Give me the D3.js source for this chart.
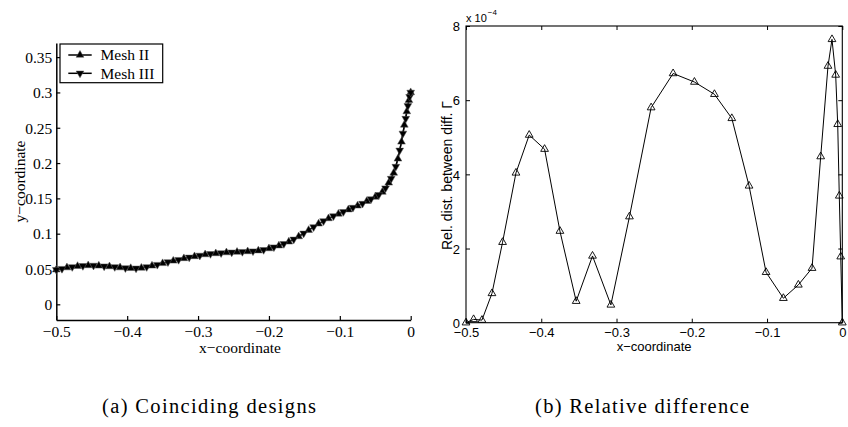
<!DOCTYPE html>
<html>
<head>
<meta charset="utf-8">
<script src="https://cdn.jsdelivr.net/npm/d3@7"></script>
<style>
  html, body { margin: 0; padding: 0; background: #fff; }
  svg { display: block; }
</style>
</head>
<body>
<svg id="chart" width="848" height="427"></svg>
<script>
// ---------- DATA ----------
// (a) Coinciding designs : curve y(x) for two meshes
const meshIIX = [-0.5, -0.485, -0.470, -0.455, -0.440, -0.425, -0.410, -0.395, -0.380, -0.365, -0.350, -0.335, -0.320, -0.305, -0.290, -0.275, -0.260, -0.245, -0.230, -0.215, -0.200, -0.186, -0.172, -0.158, -0.144, -0.130, -0.116, -0.102, -0.088, -0.075, -0.062, -0.050, -0.040, -0.031, -0.024, -0.018, -0.013, -0.009, -0.0055, -0.0025, 0];
const meshIIY = [0.049, 0.052, 0.054, 0.055, 0.0545, 0.0535, 0.052, 0.051, 0.0515, 0.0545, 0.058, 0.0615, 0.065, 0.0678, 0.0705, 0.072, 0.0733, 0.074, 0.0748, 0.076, 0.079, 0.083, 0.0885, 0.096, 0.105, 0.114, 0.1215, 0.128, 0.134, 0.1395, 0.146, 0.152, 0.159, 0.172, 0.186, 0.206, 0.230, 0.254, 0.273, 0.289, 0.300];
const meshIIIX = [-0.5, -0.492, -0.4775, -0.4625, -0.4475, -0.4325, -0.4175, -0.4025, -0.3875, -0.3725, -0.3575, -0.3425, -0.3275, -0.3125, -0.2975, -0.2825, -0.2675, -0.2525, -0.2375, -0.2225, -0.2075, -0.193, -0.179, -0.165, -0.151, -0.137, -0.123, -0.109, -0.095, -0.0815, -0.068, -0.056, -0.045, -0.0355, -0.0275, -0.021, -0.0155, -0.011, -0.007, -0.004, -0.0015, 0];
const meshIIIY = [0.049, 0.0505, 0.053, 0.0545, 0.055, 0.054, 0.053, 0.0515, 0.051, 0.053, 0.0562, 0.06, 0.0632, 0.0665, 0.0692, 0.0715, 0.0727, 0.0737, 0.0745, 0.0753, 0.0772, 0.081, 0.0857, 0.092, 0.1005, 0.1095, 0.118, 0.125, 0.131, 0.137, 0.1427, 0.149, 0.155, 0.1645, 0.178, 0.195, 0.218, 0.242, 0.263, 0.281, 0.294, 0.300];
const leftXTicks = [-0.5, -0.4, -0.3, -0.2, -0.1, 0];
const leftXTickLabels = ["\u22120.5", "\u22120.4", "\u22120.3", "\u22120.2", "\u22120.1", "0"];
const leftYTicks = [0, 0.05, 0.1, 0.15, 0.2, 0.25, 0.3, 0.35];
const leftYTickLabels = ["0", "0.05", "0.1", "0.15", "0.2", "0.25", "0.3", "0.35"];
const leftXDomain = [-0.5, 0];
const leftYDomain = [-0.0222, 0.37];
const legendLabels = ["Mesh II", "Mesh III"];

// (b) Relative difference (values in units of 1e-4)
const relX = [-0.5, -0.4899, -0.4788, -0.4655, -0.4514, -0.4336, -0.4160, -0.3956, -0.3752, -0.3536, -0.3319, -0.3075, -0.2828, -0.2540, -0.2248, -0.1965, -0.1699, -0.1468, -0.1239, -0.1013, -0.0783, -0.0584, -0.0402, -0.0287, -0.0190, -0.0137, -0.0088, -0.0061, -0.0040, -0.0021, 0];
const relY = [0, 0.09, 0.07, 0.79, 2.17, 4.04, 5.06, 4.68, 2.47, 0.58, 1.80, 0.48, 2.86, 5.80, 6.72, 6.49, 6.16, 5.51, 3.69, 1.36, 0.66, 1.02, 1.47, 4.48, 6.92, 7.64, 6.68, 5.35, 3.42, 1.78, 0];
const rightXTicks = [-0.5, -0.4, -0.3, -0.2, -0.1, 0];
const rightXTickLabels = ["\u22120.5", "\u22120.4", "\u22120.3", "\u22120.2", "\u22120.1", "0"];
const rightYTicks = [0, 2, 4, 6, 8];
const rightYTickLabels = ["0", "2", "4", "6", "8"];
const rightXDomain = [-0.5, 0];
const rightYDomain = [0, 8];

const captions = ["(a) Coinciding designs", "(b) Relative difference"];

// ---------- DRAW ----------
const svg = d3.select("#chart");
const serif = "'Liberation Serif', 'Times New Roman', serif";
const sans = "'Liberation Sans', Arial, Helvetica, sans-serif";

// ===== Left panel =====
const L = { left: 56.3, right: 410.7, top: 43, bottom: 320 };
const xL = d3.scaleLinear().domain(leftXDomain).range([L.left, L.right]);
const yL = d3.scaleLinear().domain(leftYDomain).range([L.bottom, L.top]);
const gL = svg.append("g");

const xAxisL = d3.axisBottom(xL).tickValues(leftXTicks)
  .tickFormat((d, i) => leftXTickLabels[i]).tickSizeInner(-4).tickSizeOuter(0).tickPadding(6);
const yAxisL = d3.axisLeft(yL).tickValues(leftYTicks)
  .tickFormat((d, i) => leftYTickLabels[i]).tickSizeInner(-4).tickSizeOuter(0).tickPadding(4);

const gxL = gL.append("g").attr("transform", `translate(0,${L.bottom})`).call(xAxisL);
const gyL = gL.append("g").attr("transform", `translate(${L.left},0)`).call(yAxisL);
[gxL, gyL].forEach(g => {
  g.select(".domain").attr("stroke", "#000").attr("stroke-width", 1.5);
  g.selectAll(".tick line").attr("stroke", "#000").attr("stroke-width", 1.2);
  g.selectAll(".tick text").attr("fill", "#000").style("font-family", serif).style("font-size", "15.5px");
});
gxL.selectAll(".tick text").attr("dy", "0.71em");
gyL.selectAll(".tick text").attr("dy", "0.34em");

const seriesL = [
  { pts: meshIIX.map((x, i) => [x, meshIIY[i]]), rot: 0 },
  { pts: meshIIIX.map((x, i) => [x, meshIIIY[i]]), rot: 180 }
];
const lineL = d3.line().x(d => xL(d[0])).y(d => yL(d[1]));
const triL = d3.symbol().type(d3.symbolTriangle).size(26);
seriesL.forEach(s => {
  gL.append("path").datum(s.pts).attr("d", lineL)
    .attr("fill", "none").attr("stroke", "#000").attr("stroke-width", 1.4);
});
seriesL.forEach(s => {
  gL.selectAll(null).data(s.pts).enter().append("path")
    .attr("d", triL)
    .attr("transform", d => `translate(${xL(d[0])},${yL(d[1])}) rotate(${s.rot})`)
    .attr("fill", "#000").attr("stroke", "#555").attr("stroke-width", 0.5);
});

// legend
const leg = gL.append("g");
leg.append("rect").attr("x", 60).attr("y", 44).attr("width", 102.7).attr("height", 38.7)
  .attr("fill", "#fff").attr("stroke", "#000").attr("stroke-width", 1.2);
legendLabels.forEach((lab, i) => {
  const cy = 55 + i * 18.3;
  leg.append("line").attr("x1", 68.3).attr("x2", 91.7).attr("y1", cy).attr("y2", cy)
    .attr("stroke", "#000").attr("stroke-width", 1.5);
  leg.append("path").attr("d", triL)
    .attr("transform", `translate(80,${cy}) rotate(${i === 0 ? 0 : 180})`)
    .attr("fill", "#000").attr("stroke", "#555").attr("stroke-width", 0.5);
  leg.append("text").attr("x", 100.5).attr("y", cy + 5.2).text(lab)
    .style("font-family", serif).style("font-size", "15.5px").attr("fill", "#000");
});

// labels
gL.append("text").attr("x", 240).attr("y", 352.5).attr("text-anchor", "middle")
  .text("x\u2212coordinate").style("font-family", serif).style("font-size", "15.5px");
gL.append("text").attr("transform", "translate(24.5,181.5) rotate(-90)").attr("text-anchor", "middle")
  .text("y\u2212coordinate").style("font-family", serif).style("font-size", "15.5px");

// ===== Right panel =====
const R = { left: 466, right: 842.3, top: 26, bottom: 322.7 };
const xR = d3.scaleLinear().domain(rightXDomain).range([R.left, R.right]);
const yR = d3.scaleLinear().domain(rightYDomain).range([R.bottom, R.top]);
const gR = svg.append("g");

gR.append("rect").attr("x", R.left).attr("y", R.top)
  .attr("width", R.right - R.left).attr("height", R.bottom - R.top)
  .attr("fill", "none").attr("stroke", "#000").attr("stroke-width", 1.1);

const xAxisR = d3.axisBottom(xR).tickValues(rightXTicks)
  .tickFormat((d, i) => rightXTickLabels[i]).tickSizeInner(-4).tickSizeOuter(0).tickPadding(5);
const xAxisRTop = d3.axisTop(xR).tickValues(rightXTicks).tickFormat("").tickSizeInner(-4).tickSizeOuter(0);
const yAxisR = d3.axisLeft(yR).tickValues(rightYTicks)
  .tickFormat((d, i) => rightYTickLabels[i]).tickSizeInner(-4).tickSizeOuter(0).tickPadding(6);
const yAxisRRight = d3.axisRight(yR).tickValues(rightYTicks).tickFormat("").tickSizeInner(-4).tickSizeOuter(0);

const gxR = gR.append("g").attr("transform", `translate(0,${R.bottom})`).call(xAxisR);
const gxRT = gR.append("g").attr("transform", `translate(0,${R.top})`).call(xAxisRTop);
const gyR = gR.append("g").attr("transform", `translate(${R.left},0)`).call(yAxisR);
const gyRR = gR.append("g").attr("transform", `translate(${R.right},0)`).call(yAxisRRight);
[gxR, gxRT, gyR, gyRR].forEach(g => {
  g.select(".domain").remove();
  g.selectAll(".tick line").attr("stroke", "#000").attr("stroke-width", 1);
  g.selectAll(".tick text").attr("fill", "#000").style("font-family", sans).style("font-size", "13px");
});
gxR.selectAll(".tick text").attr("dy", "0.71em");
gyR.selectAll(".tick text").attr("dy", "0.36em");

const relPts = relX.map((x, i) => [x, relY[i]]);
const lineR = d3.line().x(d => xR(d[0])).y(d => yR(d[1]));
gR.append("path").datum(relPts).attr("d", lineR)
  .attr("fill", "none").attr("stroke", "#000").attr("stroke-width", 1);
const triR = d3.symbol().type(d3.symbolTriangle).size(26);
gR.selectAll(null).data(relPts).enter().append("path")
  .attr("d", triR)
  .attr("transform", d => `translate(${xR(d[0])},${yR(d[1])})`)
  .attr("fill", "none").attr("stroke", "#000").attr("stroke-width", 0.9);

// exponent label
const expT = gR.append("text").attr("x", 466).attr("y", 21.7)
  .style("font-family", sans).style("font-size", "11px").attr("fill", "#000");
expT.append("tspan").text("x 10");
expT.append("tspan").attr("dx", 1).attr("dy", -6.5).style("font-size", "8px").text("\u22124");

// axis labels
gR.append("text").attr("x", (R.left + R.right) / 2).attr("y", 351).attr("text-anchor", "middle")
  .text("x\u2212coordinate").style("font-family", sans).style("font-size", "13px");
gR.append("text").attr("transform", "translate(452,250) rotate(-90)").attr("text-anchor", "start")
  .text("Rel. dist. between diff. \u0393").style("font-family", sans).style("font-size", "14px");

// ===== Captions =====
const capX = [209, 642];
captions.forEach((c, i) => {
  svg.append("text").attr("x", capX[i]).attr("y", 413).attr("text-anchor", "middle")
    .attr("textLength", 214).attr("lengthAdjust", "spacing")
    .text(c).style("font-family", serif).style("font-size", "20.5px").attr("fill", "#000");
});
</script>
</body>
</html>
